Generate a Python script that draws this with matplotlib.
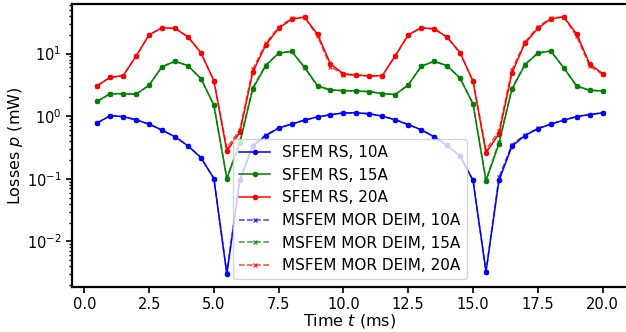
import numpy as np
import matplotlib
matplotlib.use("Agg")
import matplotlib.pyplot as plt

# time grid (ms)
t = np.arange(0.5, 20.01, 0.5)

# SFEM reference solution, losses in mW
sfem_10 = [0.782, 1.02, 0.986, 0.873, 0.746, 0.599, 0.468, 0.336, 0.217, 0.101,
           0.0030, 0.094, 0.33, 0.486, 0.644, 0.746, 0.863, 0.975, 1.05, 1.13,
           1.13, 1.09, 1.0, 0.873, 0.735, 0.605, 0.468, 0.34, 0.231, 0.094,
           0.00328, 0.094, 0.33, 0.49, 0.628, 0.746, 0.863, 0.986, 1.06, 1.13]
sfem_15 = [1.73, 2.29, 2.27, 2.24, 3.12, 6.17, 7.51, 6.40, 3.97, 1.50,
           0.1005, 0.37, 2.72, 6.40, 10.1, 10.8, 6.03, 3.07, 2.62, 2.56,
           2.53, 2.46, 2.29, 2.21, 3.15, 6.25, 7.51, 6.40, 4.03, 1.57,
           0.093, 0.362, 2.69, 6.56, 10.1, 10.96, 5.94, 3.04, 2.59, 2.53]
sfem_20 = [3.07, 4.18, 4.43, 9.12, 19.9, 25.8, 25.2, 18.5, 10.3, 3.69,
           0.277, 0.55, 5.02, 13.7, 25.2, 35.4, 38.1, 20.2, 6.8, 4.75,
           4.55, 4.38, 4.43, 9.23, 19.9, 25.8, 24.8, 18.3, 10.3, 3.61,
           0.26, 0.52, 4.89, 14.5, 25.2, 35.8, 38.5, 20.5, 6.8, 4.77]

# MSFEM MOR DEIM
mor_10 = [0.78, 1.01, 0.98, 0.87, 0.745, 0.598, 0.468, 0.337, 0.218, 0.101,
          0.0031, 0.098, 0.35, 0.50, 0.65, 0.75, 0.865, 0.97, 1.05, 1.12,
          1.13, 1.09, 1.0, 0.872, 0.735, 0.604, 0.468, 0.34, 0.232, 0.095,
          0.0033, 0.105, 0.35, 0.50, 0.635, 0.75, 0.865, 0.98, 1.06, 1.13]
mor_15 = [1.72, 2.28, 2.27, 2.24, 3.12, 6.15, 7.5, 6.38, 3.96, 1.50,
          0.102, 0.40, 2.85, 6.55, 10.2, 10.9, 5.95, 2.98, 2.60, 2.55,
          2.52, 2.46, 2.29, 2.21, 3.14, 6.23, 7.5, 6.38, 4.02, 1.57,
          0.095, 0.39, 2.80, 6.70, 10.3, 11.0, 5.85, 2.98, 2.58, 2.52]
mor_20 = [3.05, 4.15, 4.40, 9.10, 19.8, 25.7, 25.1, 18.4, 10.2, 3.68,
          0.31, 0.60, 5.6, 14.6, 26.5, 36.5, 38.0, 18.8, 6.2, 4.6,
          4.5, 4.36, 4.42, 9.2, 19.8, 25.7, 24.7, 18.2, 10.2, 3.60,
          0.29, 0.58, 5.5, 15.3, 26.5, 37.0, 38.3, 18.8, 6.3, 4.65]

fig = plt.figure(figsize=(6.26, 3.32), dpi=100)
ax = fig.add_axes([0.115, 0.1355, 0.888, 0.8525])

ax.plot(t, sfem_10, '-o', color='b', lw=1.1, ms=3, label='SFEM RS, 10A')
ax.plot(t, sfem_15, '-o', color='g', lw=1.1, ms=3, label='SFEM RS, 15A')
ax.plot(t, sfem_20, '-o', color='r', lw=1.1, ms=3, label='SFEM RS, 20A')
ax.plot(t, mor_10, '--x', color='b', lw=1.1, ms=3, alpha=0.75, label='MSFEM MOR DEIM, 10A')
ax.plot(t, mor_15, '--x', color='g', lw=1.1, ms=3, alpha=0.75, label='MSFEM MOR DEIM, 15A')
ax.plot(t, mor_20, '--x', color='r', lw=1.1, ms=3, alpha=0.75, label='MSFEM MOR DEIM, 20A')

ax.set_yscale('log')
ax.set_xticks([0, 2.5, 5, 7.5, 10, 12.5, 15, 17.5, 20])
ax.set_xticklabels(['0.0', '2.5', '5.0', '7.5', '10.0', '12.5', '15.0', '17.5', '20.0'])
ax.set_xlabel('Time $t$ (ms)', fontsize=11.5, labelpad=0)
ax.set_ylabel('Losses $p$ (mW)', fontsize=11.5, labelpad=1)
ax.tick_params(which='major', labelsize=10.5, width=1.2, length=4.5, pad=3)
ax.tick_params(which='minor', width=1.0, length=2.5)
for s in ax.spines.values():
    s.set_linewidth(1.6)

ax.legend(loc='lower center', fontsize=11)
fig.savefig('out.png', dpi=100)
